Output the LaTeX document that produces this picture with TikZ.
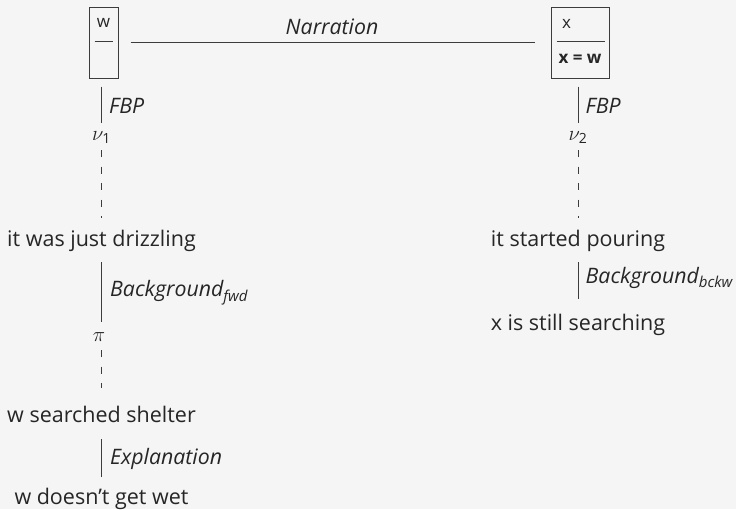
\documentclass[tikz,border=0pt]{standalone}
\usepackage{fontspec}
\setmainfont{Open Sans}
\definecolor{paper}{HTML}{F5F5F5}
\definecolor{ink}{HTML}{262626}
\definecolor{rulec}{HTML}{3C3C3C}
\newcommand{\lowsub}[1]{{\fontsize{15}{15}\selectfont\raisebox{-4.5pt}{#1}}}
\begin{document}
\begin{tikzpicture}[x=1pt,y=-1pt,
  txt/.style={inner sep=0pt, anchor=base, text height=16pt, text depth=5pt,
              text=ink, font=\fontsize{21.5}{25}\selectfont},
  mth/.style={inner sep=0pt, anchor=base, text height=10pt, text depth=5pt,
              text=ink, font=\fontsize{21}{25}\selectfont},
  lbl/.style={inner sep=0pt, anchor=base west, text=ink,
              font=\fontsize{21.3}{25}\selectfont\itshape},
  boxtxt/.style={inner sep=0pt, anchor=base, text=ink,
              font=\fontsize{17}{20}\selectfont},
  drsbox/.style={draw=rulec, line width=1pt, minimum height=71pt, inner sep=0pt},
  rel/.style={draw=rulec, line width=1pt},
  sub/.style={rel, dash pattern=on 7pt off 9.5pt}]
\fill[paper] (0,0) rectangle (736,509);
\useasboundingbox (0,0) rectangle (736,509);

% the two boxes
\node[drsbox, minimum width=29pt] (K1) at (103.5,42.5) {};
\node[drsbox, minimum width=58pt] (K2) at (580,42.5) {};
\node[boxtxt] (k1ref) at (103.5,27.7) {w};
\draw[rel] ([shift={(6,-1.5)}]K1.west) -- ([shift={(-6,-1.5)}]K1.east);
\node[boxtxt, anchor=base west] (k2ref) at (562,28.3) {x};
\draw[rel] ([shift={(6,-1.5)}]K2.west) -- ([shift={(-5,-1.5)}]K2.east);
\node[boxtxt] (k2cond) at (580,63) {\textbf{x = w}};

% narration between the boxes
\draw[rel, shorten <=12pt, shorten >=16pt] (K1) -- (K2);
\node[lbl, anchor=base] (nar) at (332,34) {Narration};

% left column
\node[mth] (nu1) at (101.5,140) {$\nu_{\mbox{\fontsize{14}{14}\selectfont 1}}$};
\node[txt] (drz) at (101.5,246.7) {it was just drizzling};
\node[mth, text depth=0pt] (pi) at (101.5,341) {$\pi$\kern5pt};
\node[txt] (shel) at (101.5,422) {w searched shelter};
\node[txt] (wet) at (101.5,504) {w doesn’t get wet};

\draw[rel, shorten <=8pt, shorten >=7pt] (K1.south -| nu1) -- (nu1);
\node[lbl] (fbp1) at (109,113) {FBP};
\draw[sub, shorten <=5pt, shorten >=12.7pt] (nu1) -- (drz);
\draw[rel, shorten <=10.3pt, shorten >=9pt] (drz) -- (pi);
\node[lbl] (bgf) at (110,296.7) {Background\lowsub{fwd}};
\draw[sub, shorten <=9pt, shorten >=18pt] (pi) -- (shel);
\draw[rel, shorten <=12pt, shorten >=11pt] (shel) -- (wet);
\node[lbl] (expl) at (110,464) {Explanation};

% right column
\node[mth] (nu2) at (578,140) {$\nu_{\mbox{\fontsize{14}{14}\selectfont 2}}$};
\node[txt] (pour) at (578,246) {it started pouring};
\node[txt] (srch) at (578,330) {x is still searching};

\draw[rel, shorten <=8pt, shorten >=7pt] (K2.south -| nu2) -- (nu2);
\node[lbl] (fbp2) at (585.5,113) {FBP};
\draw[sub, shorten <=5pt, shorten >=12pt] (nu2) -- (pour);
\draw[rel, shorten <=11pt, shorten >=15pt] (pour) -- (srch);
\node[lbl] (bgb) at (585.5,283) {Background\lowsub{bckw}};
\end{tikzpicture}
\end{document}
